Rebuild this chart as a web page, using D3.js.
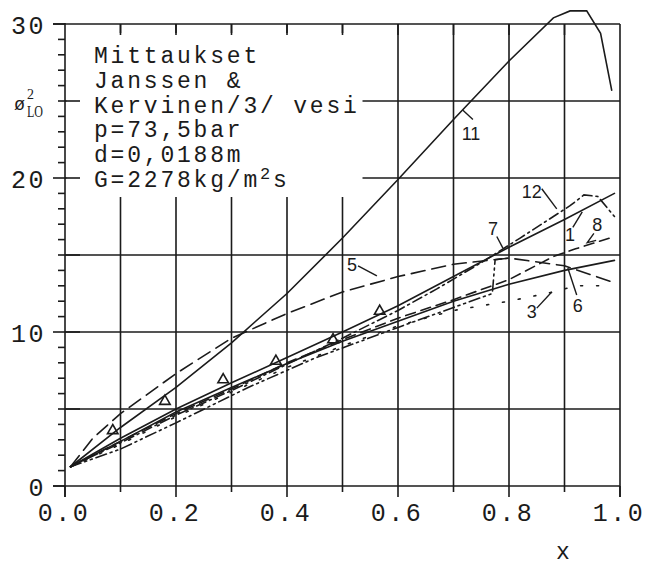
<!DOCTYPE html>
<html>
<head>
<meta charset="utf-8">
<script src="https://cdn.jsdelivr.net/npm/d3@7"></script>
<style>
  body { margin: 0; background: #fff; }
  svg { display: block; }
</style>
</head>
<body>
<script>
// tick labels
var xTicks = [0, 0.2, 0.4, 0.6, 0.8, 1.0];
var xTickLabels = ["0.0", "0.2", "0.4", "0.6", "0.8", "1.0"];
var yTicks = [0, 10, 20, 30];
var yTickLabels = ["0", "10", "20", "30"];

// curves: [x, phi2_LO]
var curve11 = [[0.01,1.25],[0.1,3.8],[0.2,6.4],[0.3,9.3],[0.4,12.5],[0.5,16.1],[0.6,19.9],[0.7,23.8],[0.8,27.6],[0.88,30.4],[0.91,30.85],[0.94,30.85],[0.965,29.4],[0.985,25.7]];
var curve5  = [[0.01,1.25],[0.05,3.1],[0.1,4.7],[0.2,7.3],[0.3,9.6],[0.4,11.2],[0.5,12.6],[0.6,13.6],[0.7,14.4],[0.8,14.8],[0.9,14.3],[0.99,13.2]];
var curve7  = [[0.01,1.25],[0.1,3.1],[0.2,5.0],[0.3,6.7],[0.4,8.35],[0.5,10.0],[0.6,11.7],[0.7,13.6],[0.8,15.5],[0.9,17.3],[0.99,19.0]];
var curve6  = [[0.01,1.25],[0.1,2.9],[0.2,4.8],[0.3,6.4],[0.4,7.95],[0.5,9.4],[0.6,10.7],[0.7,12.0],[0.8,13.1],[0.9,14.0],[0.99,14.65]];
var curve8  = [[0.01,1.25],[0.1,2.9],[0.2,4.7],[0.3,6.3],[0.4,8.0],[0.5,9.5],[0.6,10.9],[0.7,12.1],[0.8,13.4],[0.88,14.9],[0.92,15.4],[0.99,16.2]];
var curve3  = [[0.01,1.25],[0.1,2.7],[0.2,4.5],[0.3,6.1],[0.4,7.7],[0.5,9.1],[0.6,10.4],[0.7,11.4],[0.8,12.0],[0.88,12.6],[0.92,13.0],[0.97,13.0]];
var curve12 = [[0.01,1.25],[0.1,2.8],[0.2,4.6],[0.3,6.2],[0.4,7.9],[0.5,9.6],[0.6,11.4],[0.67,12.8],[0.75,14.5],[0.82,16.1],[0.88,17.5],[0.91,18.2],[0.935,18.9],[0.96,18.8],[0.99,17.5]];
var curve1  = [[0.01,1.25],[0.1,2.4],[0.2,4.1],[0.33,6.4],[0.45,8.3],[0.6,10.3],[0.77,12.5],[0.775,14.7],[0.8,14.8]];

// measurements (triangles)
var measX = [0.086, 0.18, 0.285, 0.38, 0.483, 0.567];
var measY = [3.6, 5.5, 6.9, 8.1, 9.5, 11.35];

var infoLines = ["Mittaukset", "Janssen &", "Kervinen/3/ vesi", "p=73,5bar", "d=0,0188m"];

var svgWidth = 647, svgHeight = 567;
var ink = "#1b1b1b";

var svg = d3.select("body").append("svg")
  .attr("width", svgWidth)
  .attr("height", svgHeight);

var x = d3.scaleLinear().domain([0, 1]).range([65, 620]);
var y = d3.scaleLinear().domain([0, 30]).range([486, 24]);

// grid
var grid = svg.append("g").attr("stroke", ink).attr("stroke-width", 1.6);
grid.selectAll(".vg")
  .data(d3.range(1, 10).map(function (i) { return i / 10; }))
  .enter().append("line")
    .attr("x1", function (d) { return x(d); })
    .attr("x2", function (d) { return x(d); })
    .attr("y1", y(0))
    .attr("y2", y(30));
grid.selectAll(".hg")
  .data([5, 10, 15, 20, 25, 30])
  .enter().append("line")
    .attr("x1", x(0))
    .attr("x2", x(1))
    .attr("y1", function (d) { return y(d); })
    .attr("y2", function (d) { return y(d); });

// white box behind the text block
svg.append("rect")
  .attr("x", 66.5).attr("y", 33)
  .attr("width", 296).attr("height", 164)
  .attr("fill", "#fff");

// axis frame + ticks
var ax = svg.append("g").attr("stroke", ink).attr("stroke-width", 1.6);
ax.append("line").attr("x1", 53).attr("x2", x(1)).attr("y1", y(0)).attr("y2", y(0));
ax.append("line").attr("x1", x(0)).attr("x2", x(0)).attr("y1", y(30) - 1).attr("y2", y(0) + 11);
ax.append("line").attr("x1", x(1)).attr("x2", x(1)).attr("y1", y(30)).attr("y2", y(0) + 11);
ax.append("line").attr("x1", 53).attr("x2", x(0)).attr("y1", y(30)).attr("y2", y(30));

// top ticks
ax.selectAll(".tt")
  .data(d3.range(1, 10).map(function (i) { return i / 10; }))
  .enter().append("line")
    .attr("x1", function (d) { return x(d); })
    .attr("x2", function (d) { return x(d); })
    .attr("y1", y(30))
    .attr("y2", y(30) + 11);
// bottom ticks
ax.selectAll(".bt")
  .data(d3.range(0, 11).map(function (i) { return i / 10; }))
  .enter().append("line")
    .attr("x1", function (d) { return x(d); })
    .attr("x2", function (d) { return x(d); })
    .attr("y1", y(0))
    .attr("y2", function (d, i) { return y(0) + (i % 2 === 0 ? 11 : 6); });
// left minor ticks
ax.selectAll(".lt")
  .data(d3.range(0, 31))
  .enter().append("line")
    .attr("x1", function (d) { return x(0) - (d % 10 === 0 ? 12 : 7); })
    .attr("x2", x(0))
    .attr("y1", function (d) { return y(d); })
    .attr("y2", function (d) { return y(d); });
// inner ticks at 5s
ax.selectAll(".rt")
  .data([5, 10, 15, 20, 25])
  .enter().append("line")
    .attr("x1", x(0))
    .attr("x2", x(0) + 15)
    .attr("y1", function (d) { return y(d); })
    .attr("y2", function (d) { return y(d); });

// tick labels
var monoFont = "'Liberation Mono', 'DejaVu Sans Mono', monospace";
svg.append("g").selectAll("text")
  .data(xTicks)
  .enter().append("text")
    .attr("x", function (d) { return x(d) - 1; })
    .attr("y", 521)
    .attr("text-anchor", "middle")
    .style("font-family", monoFont)
    .style("font-size", "25px")
    .style("letter-spacing", "2.5px")
    .attr("fill", ink)
    .text(function (d, i) { return xTickLabels[i]; });

svg.append("g").selectAll("text")
  .data(yTicks)
  .enter().append("text")
    .attr("x", 46)
    .attr("y", function (d) { return y(d) + 9.5; })
    .attr("text-anchor", "end")
    .style("font-family", monoFont)
    .style("font-size", "25px")
    .style("letter-spacing", "2.5px")
    .attr("fill", ink)
    .text(function (d, i) { return yTickLabels[i]; });

// axis titles
svg.append("text")
  .attr("x", 563).attr("y", 559)
  .attr("text-anchor", "middle")
  .style("font-family", monoFont)
  .style("font-size", "23px")
  .attr("fill", ink)
  .text("x");

var yl = svg.append("g").attr("fill", ink);
yl.append("text").attr("x", 14).attr("y", 110)
  .style("font-family", "'Liberation Sans', sans-serif").style("font-size", "18px")
  .text("\u00f8");
yl.append("text").attr("x", 27).attr("y", 99)
  .style("font-family", "'Liberation Serif', serif").style("font-size", "14px")
  .text("2");
yl.append("text").attr("x", 27).attr("y", 117)
  .attr("textLength", 16).attr("lengthAdjust", "spacingAndGlyphs")
  .style("font-family", "'Liberation Serif', serif").style("font-size", "16px")
  .text("LO");

// info text block
var info = svg.append("g")
  .style("font-family", monoFont)
  .style("font-size", "23px")
  .style("letter-spacing", "2.8px")
  .attr("fill", ink);
info.selectAll("text")
  .data(infoLines)
  .enter().append("text")
    .attr("x", 94)
    .attr("y", function (d, i) { return 63 + i * 24.8; })
    .text(function (d) { return d; });
var gLine = info.append("text").attr("x", 94).attr("y", 63 + 5 * 24.8);
gLine.append("tspan").text("G=2278kg/m");
gLine.append("tspan").attr("dy", -8).style("font-size", "17px").text("2");
gLine.append("tspan").attr("dy", 8).text("s");

// curves
var line = d3.line()
  .x(function (d) { return x(d[0]); })
  .y(function (d) { return y(d[1]); });

var curves = [
  { pts: curve11, dash: null },
  { pts: curve5, dash: "14,7" },
  { pts: curve7, dash: null },
  { pts: curve6, dash: null },
  { pts: curve8, dash: "10,6" },
  { pts: curve3, dash: "2,14" },
  { pts: curve12, dash: "10,4,2,4" },
  { pts: curve1, dash: "11,4,2,4,2,4" }
];

svg.append("g").selectAll("path")
  .data(curves)
  .enter().append("path")
    .attr("d", function (d) { return line(d.pts); })
    .attr("fill", "none")
    .attr("stroke", ink)
    .attr("stroke-width", 1.6)
    .attr("stroke-linecap", "round")
    .attr("stroke-dasharray", function (d) { return d.dash; });

// measured points
svg.append("g").selectAll("path")
  .data(measX)
  .enter().append("path")
    .attr("transform", function (d, i) { return "translate(" + x(d) + "," + y(measY[i]) + ")"; })
    .attr("d", d3.symbol().type(d3.symbolTriangle).size(48))
    .attr("fill", "none")
    .attr("stroke", ink)
    .attr("stroke-width", 1.6);

// curve labels with leader lines
var labelNames = ["11", "12", "7", "1", "8", "5", "6", "3"];
var labelPos = [[0.7315,22.9],[0.841,19.1],[0.771,16.7],[0.910,16.3],[0.959,16.95],[0.517,14.35],[0.924,11.75],[0.841,11.3]];
var leaders = [
  [[0.735,23.8],[0.717,24.4]],
  [[0.859,19.3],[0.886,18.0]],
  [[0.778,16.2],[0.789,15.45]],
  [[0.915,16.8],[0.932,17.8]],
  [[0.953,16.4],[0.941,15.8],[0.957,15.95]],
  [[0.528,14.3],[0.562,13.65]],
  [[0.922,12.4],[0.906,14.15]],
  [[0.850,11.55],[0.877,12.6]]
];

svg.append("g").selectAll("path")
  .data(leaders)
  .enter().append("path")
    .attr("d", line)
    .attr("fill", "none")
    .attr("stroke", ink)
    .attr("stroke-width", 1.4);

svg.append("g").selectAll("text")
  .data(labelNames)
  .enter().append("text")
    .attr("x", function (d, i) { return x(labelPos[i][0]); })
    .attr("y", function (d, i) { return y(labelPos[i][1]); })
    .attr("dy", "0.36em")
    .attr("text-anchor", "middle")
    .style("font-family", "'Liberation Sans Narrow', 'Liberation Sans', sans-serif")
    .style("font-size", "18px")
    .attr("fill", ink)
    .text(function (d) { return d; });
</script>
</body>
</html>
